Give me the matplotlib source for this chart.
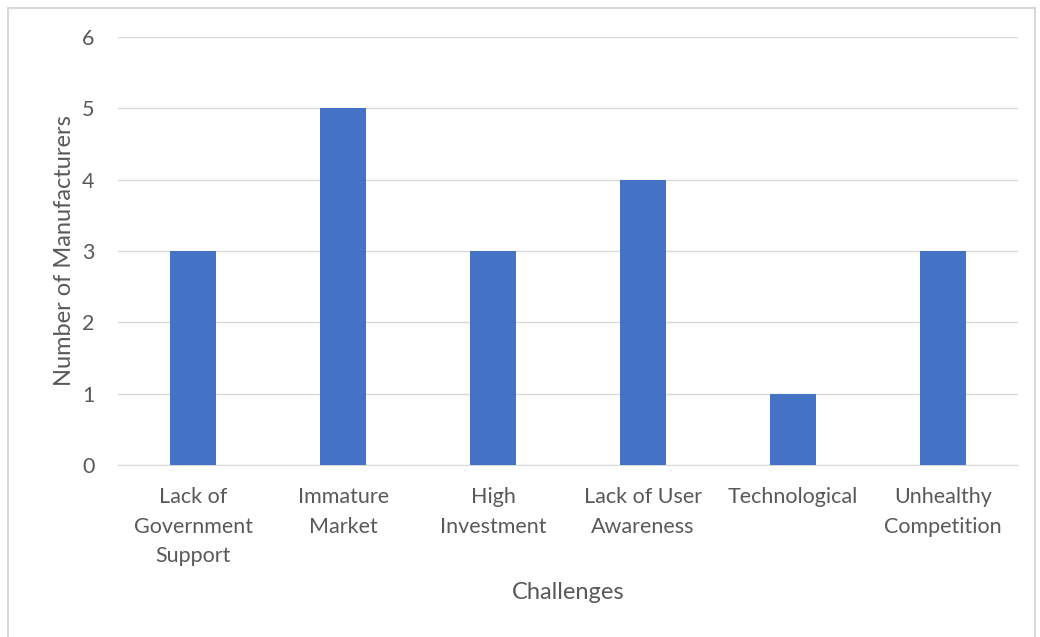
import matplotlib.pyplot as plt
from matplotlib.patches import Rectangle

challenges = ['Lack of\nGovernment\nSupport', 'Immature\nMarket', 'High\nInvestment',
              'Lack of User\nAwareness', 'Technological', 'Unhealthy\nCompetition']
manufacturers = [3, 5, 3, 4, 1, 3]
y_ticks = [0, 1, 2, 3, 4, 5, 6]

plt.rcParams['font.family'] = ['Lato', 'DejaVu Sans']
text_color = '#595959'

fig = plt.figure(figsize=(10.4, 6.37), dpi=100)
ax = fig.add_axes([0.1135, 0.270, 0.8655, 0.672])

x = range(len(challenges))
ax.bar(x, manufacturers, width=0.31, color='#4472C4', zorder=3)

ax.set_xlim(-0.5, len(challenges) - 0.5)
ax.set_ylim(0, 6)
ax.set_yticks(y_ticks)
ax.set_xticks(list(x))
ax.set_xticklabels(challenges, linespacing=1.58)
ax.tick_params(axis='both', length=0, colors=text_color, labelsize=15.5)
ax.tick_params(axis='x', pad=16)
ax.tick_params(axis='y', pad=17)
ax.grid(axis='y', color='#d9d9d9', linewidth=1, zorder=0)
for side in ['top', 'right', 'left']:
    ax.spines[side].set_visible(False)
ax.spines['bottom'].set_color('#d9d9d9')

ax.set_xlabel('Challenges', fontsize=17, color=text_color, labelpad=12)
ax.set_ylabel('Number of Manufacturers', fontsize=17, color=text_color, labelpad=5)

# light frame around the chart
fig.patches.append(Rectangle((8 / 1040, -0.05), 1027 / 1040, 1 - 8 / 637 + 0.05,
                             transform=fig.transFigure, fill=False,
                             edgecolor='#d9d9d9', linewidth=1.5))

plt.savefig('out.png', dpi=100)
